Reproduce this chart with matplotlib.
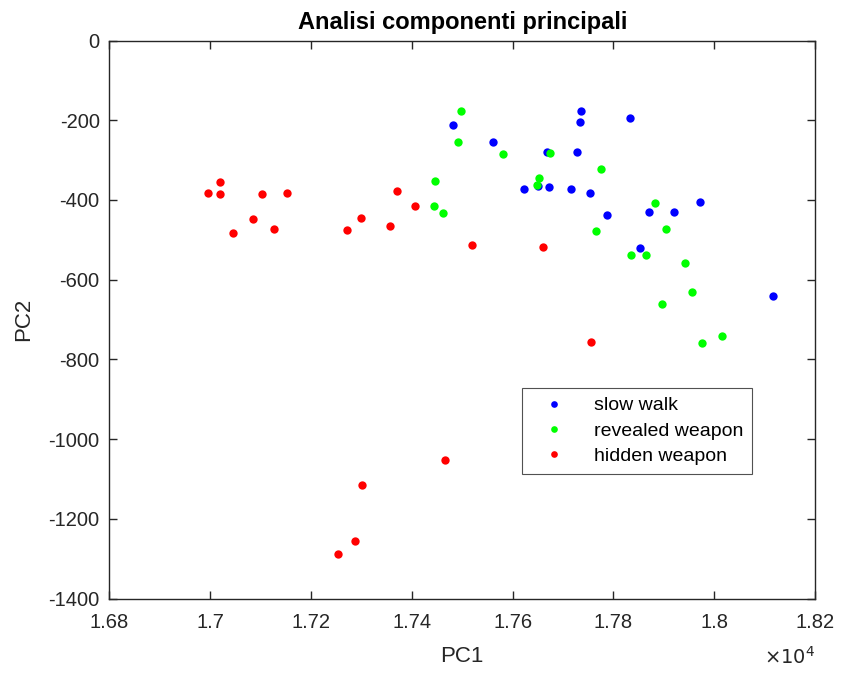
import matplotlib
matplotlib.use('Agg')
import matplotlib.pyplot as plt
from matplotlib.ticker import FuncFormatter

plt.rcParams['font.family'] = ['Liberation Sans', 'DejaVu Sans']
plt.rcParams['axes.unicode_minus'] = False

# PC1 / PC2 scores
slow_pc1 = [17481, 17561, 17668, 17728, 17736, 17734, 17832, 17650, 17622, 17672,
            17715, 17754, 17787, 17870, 17920, 17972, 17853, 18117]
slow_pc2 = [-213, -255, -280, -279, -176, -204, -194, -365, -372, -367,
            -372, -382, -438, -429, -429, -404, -521, -640]

rev_pc1 = [17497, 17492, 17581, 17674, 17776, 17446, 17652, 17648, 17443, 17462,
           17882, 17765, 17904, 17835, 17865, 17941, 17955, 17896, 17975, 18015]
rev_pc2 = [-176, -255, -285, -283, -323, -352, -346, -362, -414, -433,
           -407, -477, -474, -539, -538, -559, -630, -661, -758, -741]

hid_pc1 = [17019, 16996, 17019, 17103, 17152, 17085, 17046, 17127, 17370, 17407,
           17300, 17271, 17357, 17519, 17660, 17756, 17465, 17302, 17287, 17253]
hid_pc2 = [-356, -382, -386, -385, -383, -447, -484, -474, -378, -415,
           -444, -475, -464, -513, -517, -757, -1051, -1116, -1255, -1289]

labels = ['slow walk', 'revealed weapon', 'hidden weapon']
colors = ['#0000ff', '#00ff00', '#ff0000']

fig = plt.figure(figsize=(8.42, 6.75), dpi=100)
ax = fig.add_axes([0.130, 0.113, 0.838, 0.827])

ax.plot(slow_pc1, slow_pc2, 'o', color=colors[0], markersize=6, markeredgewidth=0, label=labels[0])
ax.plot(rev_pc1, rev_pc2, 'o', color=colors[1], markersize=6, markeredgewidth=0, label=labels[1])
ax.plot(hid_pc1, hid_pc2, 'o', color=colors[2], markersize=6, markeredgewidth=0, label=labels[2])

ax.set_xlim(16800, 18200)
ax.set_ylim(-1400, 0)
ax.set_xticks(range(16800, 18201, 200))
ax.set_yticks(range(-1400, 1, 200))
ax.xaxis.set_major_formatter(FuncFormatter(lambda v, p: f'{v / 1e4:g}'))

axcol = '#262626'
for s in ax.spines.values():
    s.set_color(axcol)
    s.set_linewidth(1.0)
ax.tick_params(direction='in', top=True, right=True, length=6, width=1.0,
               colors=axcol, labelsize=14.5, labelcolor=axcol)
ax.tick_params(axis='x', pad=10)
ax.tick_params(axis='y', pad=7)

ax.set_xlabel('PC1', fontsize=16, color=axcol, labelpad=10)
ax.set_ylabel('PC2', fontsize=16, color=axcol, labelpad=10)
ax.set_title('Analisi componenti principali', fontsize=17, fontweight='bold', pad=8)

fig.text(0.968, 0.010, r'$\times 10^4$', ha='right', va='bottom', fontsize=14, color=axcol,
         math_fontfamily='dejavusans')

leg = ax.legend(loc='upper left', bbox_to_anchor=(522 / 842, 1 - 388 / 675),
                bbox_transform=fig.transFigure, fontsize=14, frameon=True, fancybox=False,
                markerscale=0.8, handletextpad=0.85, borderpad=0.45, labelspacing=0.4,
                handlelength=2.4, borderaxespad=0)
leg.get_frame().set_edgecolor(axcol)
leg.get_frame().set_linewidth(0.8)

fig.savefig('out.png', dpi=100, facecolor='white')
